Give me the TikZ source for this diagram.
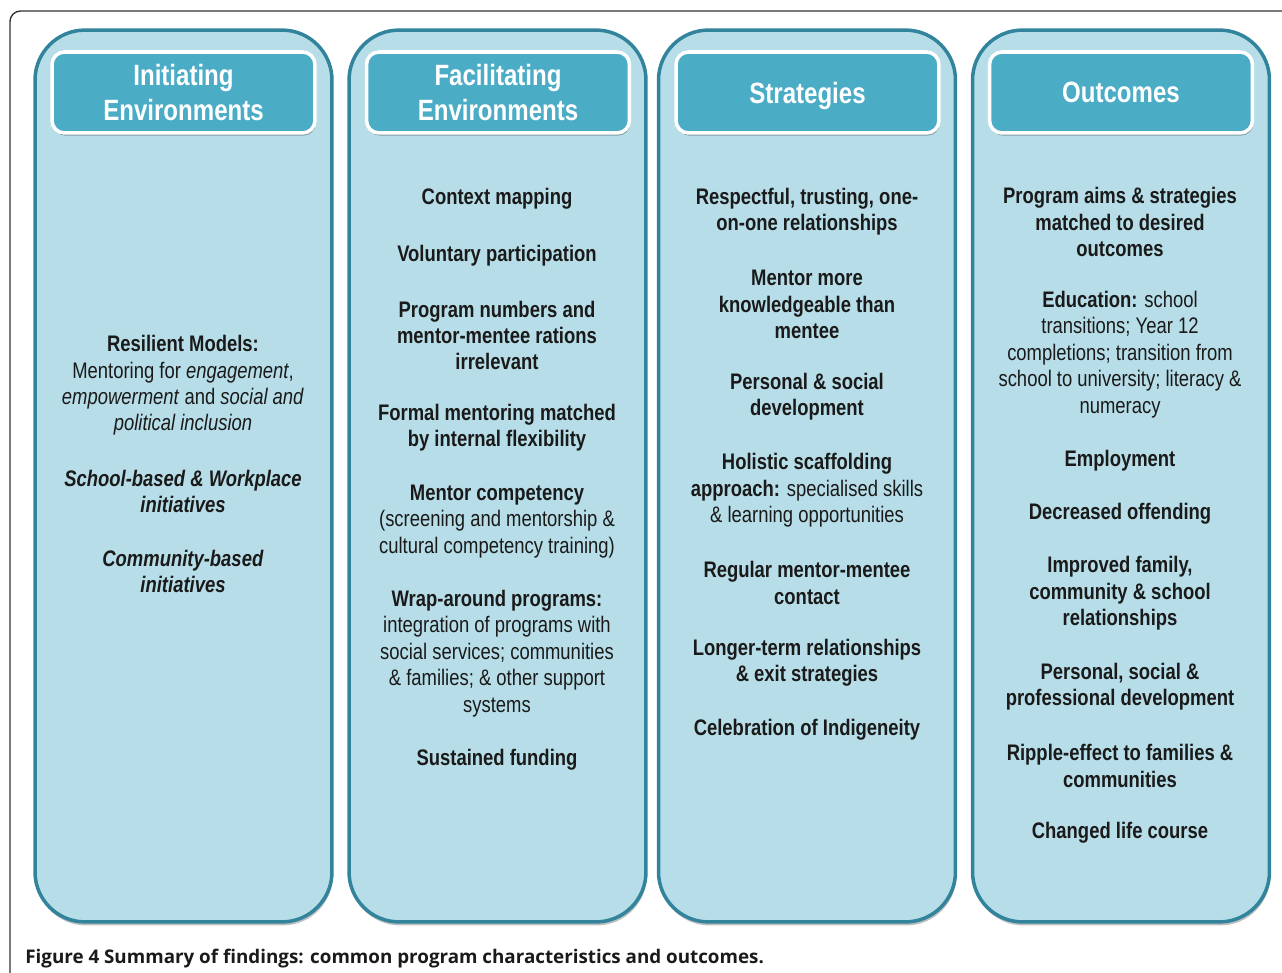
\documentclass[tikz,border=0pt]{standalone}
\usepackage{fontspec}
\setmainfont{Liberation Sans}[FakeStretch=0.82]
\newfontfamily\capfont{Open Sans}
\usetikzlibrary{shadows}
\definecolor{colfill}{HTML}{B7DEE8}
\definecolor{coledge}{HTML}{31849B}
\definecolor{headfill}{HTML}{4BACC6}
\definecolor{ink}{HTML}{1A1A1A}
\tikzset{
  column/.style={draw=coledge, line width=2pt, fill=colfill, rounded corners=1cm,
    minimum width=5.94cm, minimum height=17.84cm, inner sep=0pt,
    drop shadow={shadow xshift=0.5pt, shadow yshift=-2pt, opacity=0.25, fill=black}},
  header/.style={draw=white, line width=2pt, fill=headfill, rounded corners=0.25cm,
    minimum width=5.26cm, minimum height=1.62cm, inner sep=0pt, align=center,
    text=white, font=\fontsize{16.7}{19.8}\selectfont\bfseries,
    drop shadow={shadow xshift=0.5pt, shadow yshift=-1.5pt, opacity=0.3, fill=black}},
  item/.style={inner sep=0pt, align=center, text=ink, yshift=-0.05cm,
    font=\fontsize{12.8}{15}\selectfont}
}
\begin{document}
\begin{tikzpicture}[x=0.02cm, y=-0.02cm]
\useasboundingbox (0,0) rectangle (1282,973);
% Frame
\draw[black!80, line width=0.8pt, rounded corners=6pt] (10,985) -- (10,11) -- (1290,11);
% Columns
\node[column] (C1) at (183.5,476) {};
\node[column] (C2) at (497.5,476) {};
\node[column] (C3) at (807,476) {};
\node[column] (C4) at (1121,476) {};
% Headers
\node[header] (H1) at (183.5,92.5) {Initiating\\Environments};
\node[header] (H2) at (498,92.5) {Facilitating\\Environments};
\node[header, text depth=0pt] (H3) at (807.5,92.5) {Strategies};
\node[header, text depth=0pt] (H4) at (1121,92.5) {Outcomes};
% Initiating environments
\node[item] (I1) at (183,383) {\textbf{Resilient Models:}\\Mentoring for \textit{engagement},\\\textit{empowerment} and \textit{social and}\\\textit{political inclusion}};
\node[item] (I2) at (183,489) {\textbf{\textit{School-based \& Workplace}}\\\textbf{\textit{initiatives}}};
\node[item] (I3) at (183,569) {\textbf{\textit{Community-based}}\\\textbf{\textit{initiatives}}};
% Facilitating environments
\node[item] (F1) at (497,196) {\textbf{Context mapping}};
\node[item] (F2) at (497,253) {\textbf{Voluntary participation}};
\node[item] (F3) at (497,333) {\textbf{Program numbers and}\\\textbf{mentor-mentee rations}\\\textbf{irrelevant}};
\node[item] (F4) at (497,425.5) {\textbf{Formal mentoring matched}\\\textbf{by internal flexibility}};
\node[item] (F5) at (497,519) {\textbf{Mentor competency}\\(screening and mentorship \&\\cultural competency training)};
\node[item] (F6) at (497,651) {\textbf{Wrap-around programs:}\\integration of programs with\\social services; communities\\\& families; \& other support\\systems};
\node[item] (F7) at (497,757) {\textbf{Sustained funding}};
% Strategies
\node[item] (S1) at (807,209) {\textbf{Respectful, trusting, one-}\\\textbf{on-one relationships}};
\node[item] (S2) at (807,302) {\textbf{Mentor more}\\\textbf{knowledgeable than}\\\textbf{mentee}};
\node[item] (S3) at (807,394.5) {\textbf{Personal \& social}\\\textbf{development}};
\node[item] (S4) at (807,488) {\textbf{Holistic scaffolding}\\\textbf{approach:} specialised skills\\\& learning opportunities};
\node[item] (S5) at (807,580.5) {\textbf{Regular mentor-mentee}\\\textbf{contact}};
\node[item] (S6) at (807,660.5) {\textbf{Longer-term relationships}\\\textbf{\& exit strategies}};
\node[item] (S7) at (807,727) {\textbf{Celebration of Indigeneity}};
% Outcomes
\node[item] (O1) at (1120,219.5) {\textbf{Program aims \& strategies}\\\textbf{matched to desired}\\\textbf{outcomes}};
\node[item] (O2) at (1120,352) {\textbf{Education:} school\\transitions; Year 12\\completions; transition from\\school to university; literacy \&\\numeracy};
\node[item] (O3) at (1120,458) {\textbf{Employment}};
\node[item] (O4) at (1120,511) {\textbf{Decreased offending}};
\node[item] (O5) at (1120,591) {\textbf{Improved family,}\\\textbf{community \& school}\\\textbf{relationships}};
\node[item] (O6) at (1120,684) {\textbf{Personal, social \&}\\\textbf{professional development}};
\node[item] (O7) at (1120,763.5) {\textbf{Ripple-effect to families \&}\\\textbf{communities}};
\node[item] (O8) at (1120,830) {\textbf{Changed life course}};
% Caption
\node[anchor=west, inner sep=0pt, text=ink, font=\capfont\fontsize{10.7}{12}\selectfont\bfseries] (cap) at (25,959) {Figure 4 Summary of findings: common program characteristics and outcomes.};
\end{tikzpicture}
\end{document}
